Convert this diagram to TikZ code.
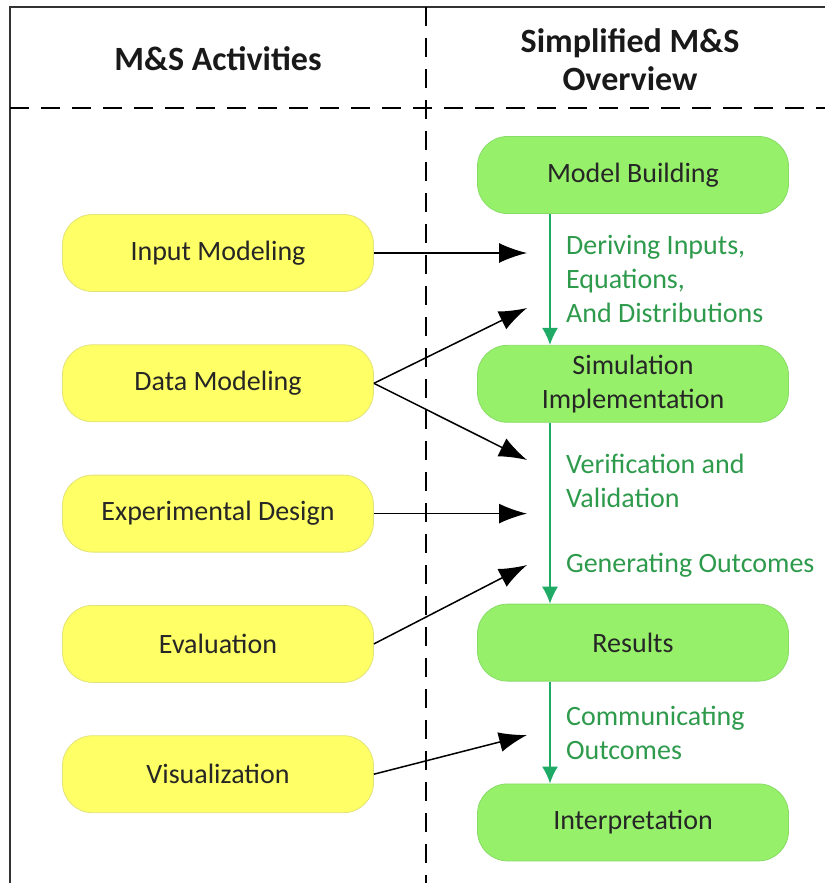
\documentclass[tikz,border=0pt]{standalone}
\usepackage{fontspec}
\setmainfont{Carlito}
\usetikzlibrary{arrows.meta}
\usetikzlibrary{positioning}
\definecolor{actfill}{HTML}{FFFF66}
\definecolor{actline}{HTML}{E2E27A}
\definecolor{ovwfill}{HTML}{96F06A}
\definecolor{ovwline}{HTML}{88DC66}
\definecolor{flowline}{HTML}{1FAA66}
\definecolor{labtext}{HTML}{2E9A4C}

\begin{document}
\begin{tikzpicture}[x=1pt,y=-1pt,node distance=52.5pt,
  act/.style={draw=actline, fill=actfill, line width=0.8pt, rounded corners=30pt,
    minimum width=311pt, minimum height=77pt, text=black!85,
    font=\fontsize{28}{34}\selectfont},
  ovw/.style={act, draw=ovwline, fill=ovwfill, align=center},
  head/.style={align=center, text=black!90, font=\fontsize{34}{38}\selectfont\bfseries},
  lab/.style={right=12pt, align=left, text=labtext, font=\fontsize{28}{34}\selectfont},
  flow/.style={draw=flowline, line width=1.5pt, -{Latex[length=17pt,width=16pt]}},
  feed/.style={line width=1.5pt, -{Latex[length=28pt,width=20pt]}},
  sep/.style={line width=2pt, dash pattern=on 19pt off 12pt}]
  \useasboundingbox (0,0) rectangle (825,883);
  \draw[line width=1.5pt, black!80] (10,883) -- (10,7) -- (825,7);
  \draw[sep] (10,108) -- (825,108);
  \draw[sep] (426,7) -- (426,883);
  \node [head] (hl) at (218,59) {M\&S Activities};
  \node [head] (hr) at (630,60) {Simplified M\&S\\Overview};
  \node [act] (inp) at (218,253) {Input Modeling};
  \node [act, below=of inp] (dat) {Data Modeling};
  \node [act, below=of dat] (exp) {Experimental Design};
  \node [act, below=of exp] (eva) {Evaluation};
  \node [act, below=of eva] (vis) {Visualization};
  \node [ovw] (mb) at (633,175) {Model Building};
  \node [ovw, below=131pt of mb] (sim) {Simulation\\Implementation};
  \node [ovw, below=181pt of sim] (res) {Results};
  \node [ovw, below=102pt of res] (int) {Interpretation};
  \coordinate (ax) at (550,0);
  \coordinate (tx) at (527,0);
  \coordinate (d1) at (527,308);
  \coordinate (d2) at (527,460);
  \coordinate (e1) at (527,565);
  \coordinate (v1) at (527,735);
  \draw[flow] (mb.south -| ax) -- node[lab] {Deriving Inputs,\\Equations,\\And Distributions} (sim.north -| ax);
  \draw[flow] (sim.south -| ax) -- node[lab, pos=0.32] {Verification and\\Validation}
    node[lab, pos=0.79] {Generating Outcomes} (res.north -| ax);
  \draw[flow] (res.south -| ax) -- node[lab] {Communicating\\Outcomes} (int.north -| ax);
  \draw[feed] (inp.east) -- (inp -| tx);
  \draw[feed] (dat.east) -- (d1);
  \draw[feed] (dat.east) -- (d2);
  \draw[feed] (exp.east) -- (exp -| tx);
  \draw[feed] (eva.east) -- (e1);
  \draw[feed] (vis.east) -- (v1);
\end{tikzpicture}
\end{document}
